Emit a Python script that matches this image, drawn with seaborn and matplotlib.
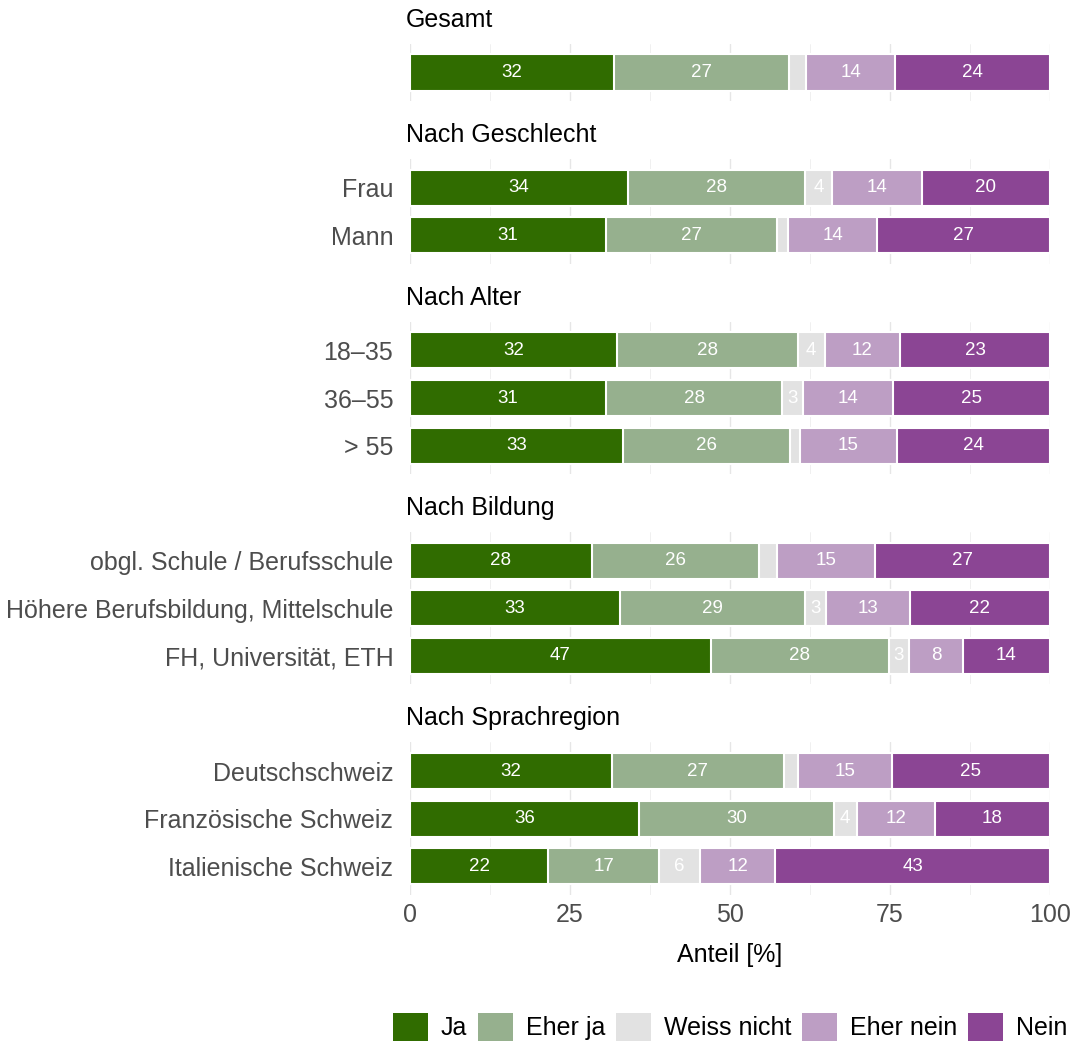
import numpy as np
import pandas as pd
import matplotlib
matplotlib.use("Agg")
import matplotlib.pyplot as plt
import seaborn as sns
from matplotlib.patches import Patch

# Survey shares in percent, one entry per row (top to bottom)
groups = ["Gesamt", "Nach Geschlecht", "Nach Alter", "Nach Bildung", "Nach Sprachregion"]
group_rows = [
    ["Gesamt"],
    ["Frau", "Mann"],
    ["18–35", "36–55", "> 55"],
    ["obgl. Schule / Berufsschule", "Höhere Berufsbildung, Mittelschule", "FH, Universität, ETH"],
    ["Deutschschweiz", "Französische Schweiz", "Italienische Schweiz"],
]
answers = ["Ja", "Eher ja", "Weiss nicht", "Eher nein", "Nein"]
colors = ["#306c00", "#96b08e", "#e2e2e2", "#bd9ec4", "#8b4594"]

ja          = [31.9, 34.1, 30.6, 32.3, 30.6, 33.3, 28.4, 32.8, 47.0, 31.6, 35.8, 21.6]
eher_ja     = [27.3, 27.6, 26.7, 28.3, 27.6, 26.1, 26.2, 28.9, 27.8, 26.8, 30.4, 17.3]
weiss_nicht = [2.7, 4.2, 1.8, 4.2, 3.2, 1.5, 2.7, 3.3, 3.2, 2.2, 3.6, 6.4]
eher_nein   = [13.9, 14.1, 13.9, 11.8, 14.0, 15.2, 15.3, 13.1, 8.4, 14.7, 12.2, 11.8]
nein        = [24.2, 20.0, 27.0, 23.4, 24.6, 23.9, 27.4, 21.9, 13.6, 24.7, 18.0, 42.9]

series = [ja, eher_ja, weiss_nicht, eher_nein, nein]
row_names = [r for rows in group_rows for r in rows]
row_group = [g for g, rows in zip(groups, group_rows) for _ in rows]

df = pd.DataFrame({"row": row_names, "group": row_group})
for name, vals in zip(answers, series):
    df[name] = vals
cum = df[answers].cumsum(axis=1)
for name in answers:
    df["cum_" + name] = cum[name]

sns.set_theme(style="white")
plt.rcParams["font.family"] = ["Liberation Sans", "DejaVu Sans"]

W, H = 1072, 1045
fig = plt.figure(figsize=(W / 100, H / 100), dpi=100)

unit = 47.6      # pixels per row
gap = 58.0       # pixels between panels
left_px, right_px = 410, 1050
top = 44.0
label_color = "#4d4d4d"
fs = 18

axes = []
for gi, (gname, rows) in enumerate(zip(groups, group_rows)):
    h_px = (len(rows) + 0.2) * unit
    ax = fig.add_axes([left_px / W, 1 - (top + h_px) / H,
                       (right_px - left_px) / W, h_px / H])
    sub = df[df["group"] == gname]

    # stacked bars: draw cumulative totals from longest to shortest
    for name, col in reversed(list(zip(answers, colors))):
        sns.barplot(data=sub, x="cum_" + name, y="row", order=rows, orient="h",
                    color=col, saturation=1, width=0.76, errorbar=None,
                    edgecolor="white", linewidth=1.5, ax=ax, zorder=2)

    # value labels in the segment centres
    for i, (_, r) in enumerate(sub.set_index("row").loc[rows].reset_index().iterrows()):
        for name in answers:
            v = r[name]
            if v >= 3:
                ax.text(r["cum_" + name] - v / 2, i, f"{round(v)}",
                        ha="center", va="center", color="white", fontsize=13.5, zorder=5)

    ax.set_xlim(0, 100)
    ax.set_ylim(len(rows) - 1 + 0.6, -0.6)
    ax.set_xticks([0, 25, 50, 75, 100])
    ax.set_xticks([12.5, 37.5, 62.5, 87.5], minor=True)
    ax.grid(which="major", axis="x", color="#e6e6e6", linewidth=1.0, zorder=0)
    ax.grid(which="minor", axis="x", color="#eeeeee", linewidth=0.6, zorder=0)
    ax.grid(which="major", axis="y", visible=False)
    ax.set_axisbelow(True)
    for s in ax.spines.values():
        s.set_visible(False)
    ax.set_xlabel("")
    ax.set_ylabel("")
    ax.tick_params(axis="both", which="both", length=0)
    ax.tick_params(axis="y", pad=12, labelsize=fs, labelcolor=label_color)
    if gname == "Gesamt":
        ax.set_yticklabels([""])
    if gi == len(groups) - 1:
        ax.tick_params(axis="x", pad=6, labelsize=fs, labelcolor=label_color)
    else:
        ax.set_xticklabels([])

    fig.text(406 / W, 1 - (top - 24) / H, gname, ha="left", va="center",
             fontsize=fs, color="black")
    axes.append(ax)
    top += h_px + gap

fig.text((left_px + right_px) / 2 / W, 1 - 955 / H, "Anteil [%]",
         ha="center", va="center", fontsize=fs, color="black")

handles = [Patch(facecolor=c, edgecolor="none", label=a) for a, c in zip(answers, colors)]
fig.legend(handles=handles, loc="center", bbox_to_anchor=(730 / W, 1 - 1027 / H),
           ncol=5, frameon=False, fontsize=fs, labelcolor="black",
           handlelength=1.4, handleheight=1.4, handletextpad=0.5, columnspacing=0.45)

fig.savefig("out.png", dpi=100)
